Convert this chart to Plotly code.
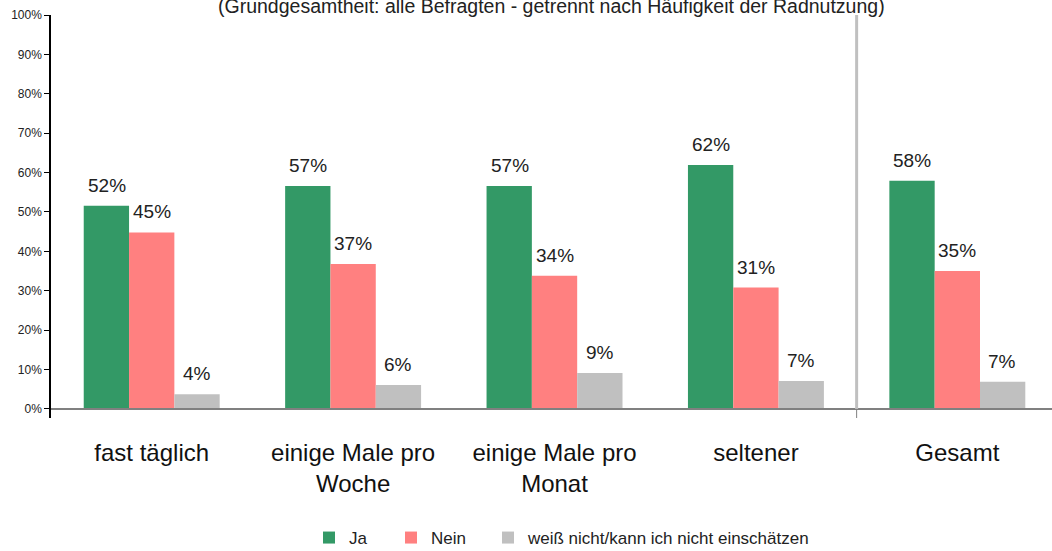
import plotly.graph_objects as go

# Survey answers by cycling frequency (percent of respondents)
categories = ["fast täglich", "einige Male pro<br>Woche", "einige Male pro<br>Monat", "seltener", "Gesamt"]
ja = [51.6, 56.6, 56.6, 61.9, 57.9]
nein = [44.8, 36.8, 33.8, 30.8, 35.0]
weiss_nicht = [3.7, 6.1, 9.1, 7.1, 6.9]

series = [
    ("Ja", ja, "#339966"),
    ("Nein", nein, "#FF8080"),
    ("weiß nicht/kann ich nicht einschätzen", weiss_nicht, "#C0C0C0"),
]

y_ticks = list(range(0, 101, 10))
subtitle = "(Grundgesamtheit: alle Befragten - getrennt nach Häufigkeit der Radnutzung)"

FONT = "Liberation Sans, Arial, sans-serif"
W, H = 1052, 551

x_idx = list(range(len(categories)))

# each series gets its own single-entry legend so the entries can be spaced freely
legend_ids = ["legend", "legend2", "legend3"]
legend_left_px = [309, 391, 488]

fig = go.Figure()
for (name, vals, color), lid in zip(series, legend_ids):
    fig.add_trace(go.Bar(
        name=name, x=x_idx, y=vals, legend=lid,
        marker=dict(color=color, line=dict(width=0)),
    ))

# value labels above each bar
annotations = []
offsets = [-45, 0, 45]
for (name, vals, color), dx in zip(series, offsets):
    for i, v in enumerate(vals):
        annotations.append(dict(
            x=i, y=v, xref="x", yref="y", xshift=dx, yshift=8,
            text=f"{v:.0f}%", showarrow=False, yanchor="bottom", xanchor="center",
            font=dict(family=FONT, size=19, color="#222222"),
        ))

annotations.append(dict(
    x=0.5, y=1, xref="paper", yref="paper", xanchor="center", yanchor="bottom",
    yshift=-4, text=subtitle, showarrow=False,
    font=dict(family=FONT, size=19.5, color="#222222"),
))

shapes = [
    # baseline at 0 %
    dict(type="line", xref="x", yref="y", x0=-0.5, x1=4.5, y0=0, y1=0,
         line=dict(color="#808080", width=2)),
    # separator before the total
    dict(type="line", xref="x", yref="y", x0=3.5, x1=3.5, y0=0, y1=100,
         line=dict(color="#C0C0C0", width=3)),
    dict(type="line", xref="x", yref="y", x0=3.5, x1=3.5, y0=-2.3, y1=0,
         line=dict(color="#808080", width=1)),
]

legend_common = dict(
    orientation="h", xref="container", yref="container",
    y=(H - 538) / H, yanchor="middle", xanchor="left",
    font=dict(family=FONT, size=17, color="#222222"),
    bgcolor="rgba(0,0,0,0)",
)

fig.update_layout(
    width=W, height=H,
    margin=dict(l=51, r=0, t=15, b=133, autoexpand=False),
    paper_bgcolor="white", plot_bgcolor="white",
    barmode="group", bargap=0.325, bargroupgap=0,
    showlegend=True,
    legend=dict(x=legend_left_px[0] / W, **legend_common),
    legend2=dict(x=legend_left_px[1] / W, **legend_common),
    legend3=dict(x=legend_left_px[2] / W, **legend_common),
    annotations=annotations,
    shapes=shapes,
    xaxis=dict(
        range=[-0.5, 4.47], tickmode="array", tickvals=x_idx, ticktext=categories,
        showline=False, showgrid=False, zeroline=False, ticks="",
        ticklabelstandoff=18, automargin=False,
        tickfont=dict(family=FONT, size=24, color="#111111"),
    ),
    yaxis=dict(
        range=[-2.3, 100], tickmode="array", tickvals=y_ticks,
        ticktext=[f"{t}%" for t in y_ticks],
        showline=True, linecolor="#000000", linewidth=1.5,
        ticks="outside", ticklen=5, tickcolor="#000000",
        showgrid=False, zeroline=False, automargin=False,
        tickfont=dict(family=FONT, size=12, color="#222222"),
    ),
)

fig.write_html("out.html")
